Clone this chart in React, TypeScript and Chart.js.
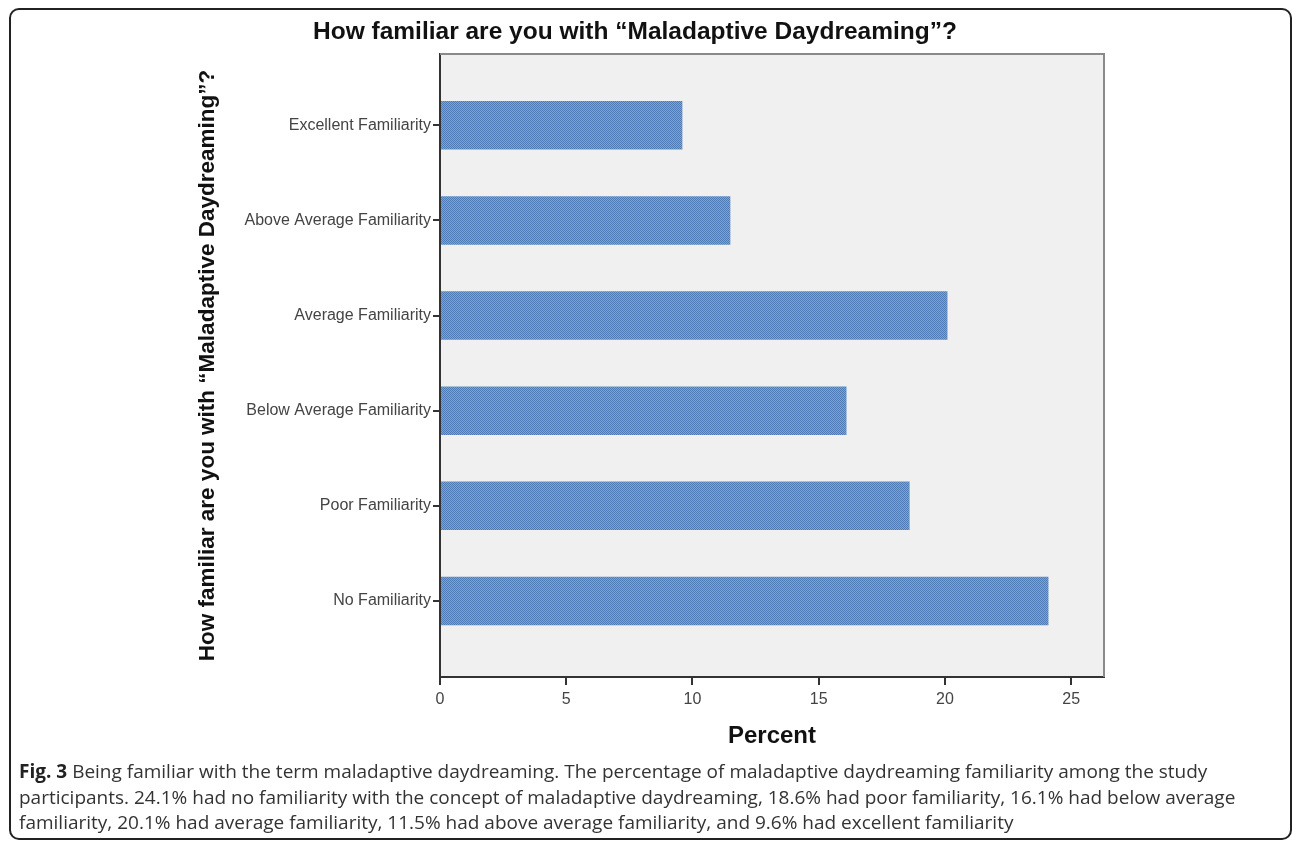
import React, { useEffect, useRef } from "react";
import { Chart, registerables } from "chart.js";
Chart.register(...registerables);

const categories = [
  "No Familiarity",
  "Poor Familiarity",
  "Below Average Familiarity",
  "Average Familiarity",
  "Above Average Familiarity",
  "Excellent Familiarity",
];
const percents = [24.1, 18.6, 16.1, 20.1, 11.5, 9.6];
const xTickValues = [0, 5, 10, 15, 20, 25];
const chartTitle = "How familiar are you with \u201cMaladaptive Daydreaming\u201d?";
const yAxisTitle = "How familiar are you with \u201cMaladaptive Daydreaming\u201d?";
const xAxisTitle = "Percent";
const captionLabel = "Fig. 3";
const captionLines = [
  "Being familiar with the term maladaptive daydreaming. The percentage of maladaptive daydreaming familiarity among the study",
  "participants. 24.1% had no familiarity with the concept of maladaptive daydreaming, 18.6% had poor familiarity, 16.1% had below average",
  "familiarity, 20.1% had average familiarity, 11.5% had above average familiarity, and 9.6% had excellent familiarity",
];

const FONT = "Arial, 'Liberation Sans', sans-serif";

function makePattern(): CanvasPattern | string {
  const c = document.createElement("canvas");
  c.width = 2;
  c.height = 2;
  const g = c.getContext("2d");
  if (!g) return "#5b8ac4";
  g.fillStyle = "#7ca5d6";
  g.fillRect(0, 0, 2, 2);
  g.fillStyle = "#4d7bb5";
  g.fillRect(0, 0, 1, 1);
  g.fillRect(1, 1, 1, 1);
  const p = g.createPattern(c, "repeat");
  return p || "#5b8ac4";
}

const plotBgPlugin = {
  id: "plotBg",
  beforeDraw(chart: any) {
    const { ctx, chartArea } = chart;
    ctx.save();
    ctx.fillStyle = "#f0f0f0";
    ctx.fillRect(chartArea.left, chartArea.top, chartArea.right - chartArea.left, chartArea.bottom - chartArea.top);
    ctx.restore();
  },
  afterDraw(chart: any) {
    const { ctx, chartArea } = chart;
    ctx.save();
    ctx.strokeStyle = "#8a8a8a";
    ctx.lineWidth = 2;
    ctx.beginPath();
    ctx.moveTo(chartArea.left, chartArea.top);
    ctx.lineTo(chartArea.right, chartArea.top);
    ctx.lineTo(chartArea.right, chartArea.bottom);
    ctx.stroke();
    ctx.restore();
  },
};

function BarChart() {
  const ref = useRef<HTMLCanvasElement>(null);
  useEffect(() => {
    if (!ref.current) return;
    const pattern = makePattern();
    const chart = new Chart(ref.current, {
      type: "bar",
      data: {
        datasets: [
          {
            data: percents.map((v, i) => ({ x: v, y: i })),
            backgroundColor: pattern as any,
            borderWidth: 0,
            categoryPercentage: 1,
            barPercentage: 0.51,
          },
        ],
      },
      plugins: [plotBgPlugin],
      options: {
        animation: false,
        responsive: false,
        indexAxis: "y",
        layout: { padding: { left: 166, right: 188, top: 0, bottom: 0 } },
        plugins: {
          legend: { display: false },
          tooltip: { enabled: false },
          title: {
            display: true,
            text: chartTitle,
            color: "#111",
            font: { family: FONT, size: 24.5, weight: "bold", lineHeight: 1.2 },
            padding: { top: 18, bottom: 6.6 },
          },
        },
        scales: {
          x: {
            type: "linear",
            min: 0,
            max: 26.3,
            afterBuildTicks: (s: any) => {
              s.ticks = xTickValues.map((v) => ({ value: v }));
            },
            afterFit: (s: any) => {
              s.height = 83;
            },
            ticks: { color: "#444", font: { family: FONT, size: 16 }, padding: 5 },
            grid: { drawOnChartArea: false, drawTicks: true, tickLength: 8, color: "#333", lineWidth: 2, offset: false },
            border: { display: true, color: "#333", width: 2 },
            title: {
              display: true,
              text: xAxisTitle,
              color: "#111",
              font: { family: FONT, size: 24, weight: "bold", lineHeight: 1.2 },
              padding: { top: 0, bottom: 9 },
            },
          },
          y: {
            type: "linear",
            offset: false,
            min: -0.8,
            max: 5.75,
            afterBuildTicks: (s: any) => {
              s.ticks = categories.map((_, i) => ({ value: i }));
            },
            afterFit: (s: any) => {
              s.width = 274;
            },
            ticks: {
              color: "#444",
              font: { family: FONT, size: 16 },
              padding: 2,
              callback: (v: any) => categories[v as number] ?? "",
            },
            grid: { drawOnChartArea: false, drawTicks: true, tickLength: 7, color: "#333", lineWidth: 2, offset: false },
            border: { display: true, color: "#333", width: 2 },
            title: {
              display: true,
              text: yAxisTitle,
              color: "#111",
              font: { family: FONT, size: 22.5, weight: "bold", lineHeight: 1.2 },
              padding: { top: 28.5, bottom: 0 },
            },
          },
        },
      },
    } as any);
    return () => chart.destroy();
  }, []);
  return (
    <canvas
      ref={ref}
      width={1292}
      height={760}
      style={{ position: "absolute", left: 0, top: 0, width: 1292, height: 760 }}
    />
  );
}

export default function App() {
  return (
    <div
      style={{
        position: "fixed",
        left: 0,
        top: 0,
        width: 1292,
        height: 843,
        overflow: "hidden",
        background: "#fff",
      }}
    >
      <div
        style={{
          position: "absolute",
          left: 9,
          top: 8,
          width: 1283,
          height: 832,
          boxSizing: "border-box",
          border: "2px solid #222",
          borderRadius: 10,
        }}
      />
      <BarChart />
      <div
        style={{
          position: "absolute",
          left: 19,
          top: 759,
          fontFamily: "'Open Sans', sans-serif",
          fontSize: 19,
          lineHeight: "25.5px",
          color: "#333",
          whiteSpace: "nowrap",
        }}
      >
        <div>
          <b style={{ color: "#222" }}>{captionLabel}</b> {captionLines[0]}
        </div>
        <div>{captionLines[1]}</div>
        <div>{captionLines[2]}</div>
      </div>
    </div>
  );
}
